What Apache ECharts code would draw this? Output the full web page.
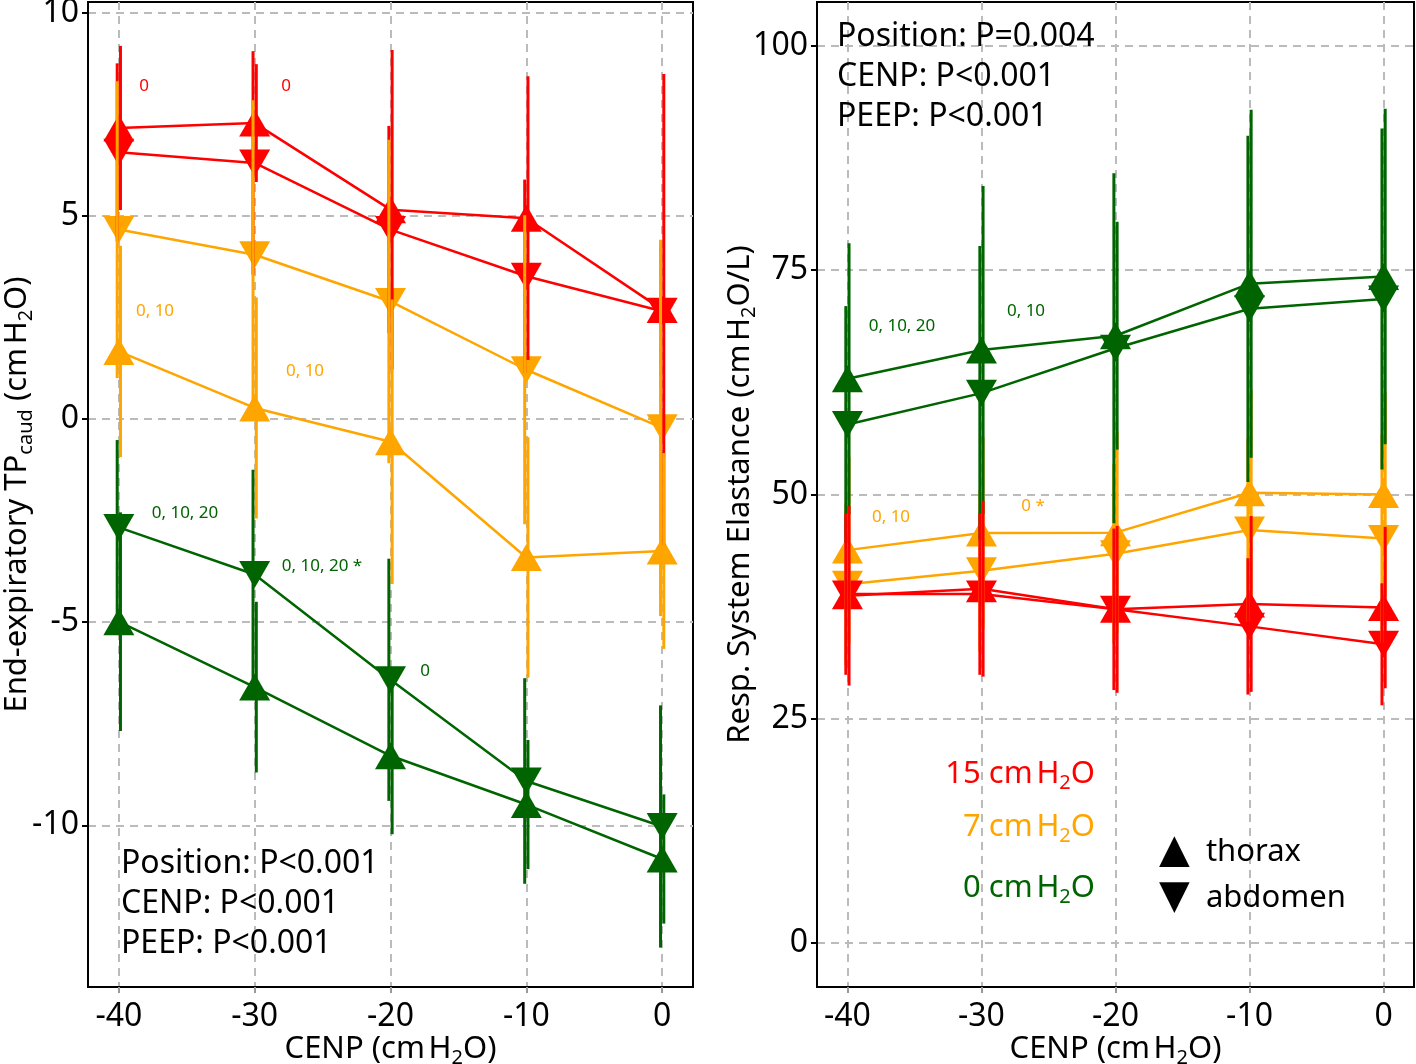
<!DOCTYPE html>
<html lang="en">
<head>
    <meta charset="UTF-8">
    <title>CENP</title>
    <script src="https://cdn.jsdelivr.net/npm/echarts@6/dist/echarts.min.js"></script>
    <style>
        html, body { margin: 0; padding: 0; background: #fff; overflow: hidden; }
        #main { width: 100vw; height: 100vh; }
    </style>
</head>
<body>
<div id="main"></div>
<script>
    var cenp = [-40, -30, -20, -10, 0];
    var xTicks = [-40, -30, -20, -10, 0];
    var tpTicks = [-10, -5, 0, 5, 10];
    var erTicks = [0, 25, 50, 75, 100];

    // end-expiratory TPcaud, mean and SD
    var tp15Thorax = [7.16, 7.28, 5.15, 4.94, 2.69];
    var tp15ThoraxSd = [2.02, 1.45, 3.93, 3.49, 5.8];
    var tp15Abdomen = [6.56, 6.30, 4.66, 3.51, 2.65];
    var tp15AbdomenSd = [2.19, 2.75, 2.55, 2.38, 1.6];
    var tp7Thorax = [1.66, 0.27, -0.56, -3.41, -3.25];
    var tp7ThoraxSd = [2.6, 2.72, 3.5, 2.96, 2.41];
    var tp7Abdomen = [4.66, 4.04, 2.89, 1.21, -0.22];
    var tp7AbdomenSd = [3.65, 3.8, 3.98, 3.8, 4.63];
    var tp0Thorax = [-4.99, -6.6, -8.29, -9.49, -10.83];
    var tp0ThoraxSd = [2.69, 2.1, 1.93, 1.59, 1.59];
    var tp0Abdomen = [-2.67, -3.83, -6.42, -8.91, -10.03];
    var tp0AbdomenSd = [2.15, 2.58, 2.98, 2.53, 2.98];

    // resp. system elastance, mean and SD
    var er15Thorax = [38.7, 39.5, 37.2, 37.8, 37.4];
    var er15ThoraxSd = [10, 9.8, 9.3, 9.8, 9];
    var er15Abdomen = [38.9, 38.9, 37.2, 35.3, 33.3];
    var er15AbdomenSd = [9, 9, 9, 7.6, 6.8];
    var er7Thorax = [43.8, 45.7, 45.75, 50.2, 50.0];
    var er7ThoraxSd = [10.4, 10.7, 11.2, 11.4, 11.4];
    var er7Abdomen = [40.0, 41.5, 43.4, 46.05, 45.1];
    var er7AbdomenSd = [9, 9, 10, 10.2, 11.6];
    var er0Thorax = [62.9, 66.1, 67.7, 73.5, 74.3];
    var er0ThoraxSd = [15.1, 18.3, 12.7, 19.4, 18.7];
    var er0Abdomen = [57.8, 61.3, 66.3, 70.7, 71.8];
    var er0AbdomenSd = [13.2, 16.4, 19.5, 19.3, 19];

    var RED = '#ff0000', ORANGE = '#ffa500', GREEN = '#006400';
    var FONT = 'Noto Sans';

    var rich = {
        n: { fontSize: 31, fontFamily: FONT, lineHeight: 38 },
        g: { fontSize: 14, fontFamily: FONT, lineHeight: 38 },
        s: { fontSize: 20, fontFamily: FONT, lineHeight: 20, verticalAlign: 'bottom' },
        t: { fontSize: 40, fontFamily: 'DejaVu Sans', lineHeight: 38 }
    };

    var series = [];

    function errBar(off) {
        return function (params, api) {
            var x = api.value(0) + off;
            var p1 = api.coord([x, api.value(1)]);
            var p2 = api.coord([x, api.value(2)]);
            return {
                type: 'line',
                shape: { x1: p1[0], y1: p1[1], x2: p2[0], y2: p2[1] },
                style: { stroke: api.visual('color'), lineWidth: 3 }
            };
        };
    }

    function addGroup(ax, mean, sd, color, up) {
        series.push({
            type: 'line',
            xAxisIndex: ax, yAxisIndex: ax,
            data: cenp.map(function (c, i) { return [c, mean[i]]; }),
            symbol: 'triangle',
            symbolRotate: up ? 0 : 180,
            symbolSize: [31, 27],
            showAllSymbol: true,
            itemStyle: { color: color, opacity: 1 },
            lineStyle: { color: color, width: 2.5 },
            emphasis: { disabled: true },
            z: 2
        });
        series.push({
            type: 'custom',
            xAxisIndex: ax, yAxisIndex: ax,
            data: cenp.map(function (c, i) { return [c, mean[i] - sd[i], mean[i] + sd[i]]; }),
            encode: { x: 0, y: [1, 2] },
            renderItem: errBar(up ? 0.12 : -0.12),
            itemStyle: { color: color },
            z: 3
        });
    }

    addGroup(0, tp0Thorax, tp0ThoraxSd, GREEN, true);
    addGroup(0, tp0Abdomen, tp0AbdomenSd, GREEN, false);
    addGroup(0, tp15Thorax, tp15ThoraxSd, RED, true);
    addGroup(0, tp15Abdomen, tp15AbdomenSd, RED, false);
    addGroup(0, tp7Thorax, tp7ThoraxSd, ORANGE, true);
    addGroup(0, tp7Abdomen, tp7AbdomenSd, ORANGE, false);

    addGroup(1, er7Thorax, er7ThoraxSd, ORANGE, true);
    addGroup(1, er7Abdomen, er7AbdomenSd, ORANGE, false);
    addGroup(1, er0Thorax, er0ThoraxSd, GREEN, true);
    addGroup(1, er0Abdomen, er0AbdomenSd, GREEN, false);
    addGroup(1, er15Thorax, er15ThoraxSd, RED, true);
    addGroup(1, er15Abdomen, er15AbdomenSd, RED, false);

    var unit = '{n|cm}{g| }{n|H}{s|2}{n|O}';

    function xAxis(idx) {
        return {
            gridIndex: idx, type: 'value', min: -42.27, max: 2.27,
            name: '{n|CENP (}' + unit + '{n|)}',
            nameLocation: 'middle', nameGap: 43, nameMoveOverlap: false,
            nameTextStyle: { color: '#000', rich: rich },
            axisLine: { show: true, onZero: false, lineStyle: { color: '#000', width: 2 } },
            axisTick: { show: true, customValues: xTicks, length: 6, lineStyle: { color: '#999', width: 2 } },
            axisLabel: { customValues: xTicks, color: '#000', fontSize: 32, fontFamily: FONT, margin: 14 },
            splitLine: { show: true, lineStyle: { type: [8, 6], color: '#bbb', width: 2 } }
        };
    }

    function yAxis(idx, min, max, ticks, name, gap) {
        return {
            gridIndex: idx, type: 'value', min: min, max: max,
            name: name, nameLocation: 'middle', nameGap: gap, nameMoveOverlap: false,
            nameTextStyle: { color: '#000', rich: rich },
            axisLine: { show: true, onZero: false, lineStyle: { color: '#000', width: 2 } },
            axisTick: { show: true, customValues: ticks, length: 6, lineStyle: { color: '#000', width: 2 } },
            axisLabel: { customValues: ticks, color: '#000', fontSize: 32, fontFamily: FONT, margin: 9 },
            splitLine: { show: true, lineStyle: { type: [8, 6], color: '#bbb', width: 2 } }
        };
    }

    function note(x, y, text, color) {
        return { type: 'text', x: x, y: y, z: 10,
            style: { text: text, fill: color, font: '17px "Noto Sans"', textAlign: 'center', textVerticalAlign: 'middle' } };
    }
    function stat(x, y, text) {
        return { type: 'text', x: x, y: y, z: 10,
            style: { text: text, fill: '#000', font: '32px "Noto Sans"', textAlign: 'left', textVerticalAlign: 'middle' } };
    }
    function peep(y, text, color) {
        return { type: 'text', x: 1095, y: y, z: 10,
            style: { text: text, rich: rich, fill: color, textAlign: 'right', textVerticalAlign: 'middle' } };
    }

    var graphics = [
        note(144, 86, '0', RED), note(286, 86, '0', RED),
        note(155, 311, '0, 10', ORANGE), note(305, 371, '0, 10', ORANGE),
        note(185, 513, '0, 10, 20', GREEN), note(322, 566, '0, 10, 20 *', GREEN), note(425, 671, '0', GREEN),
        note(902, 326, '0, 10, 20', GREEN), note(1026, 311, '0, 10', GREEN),
        note(891, 517, '0, 10', ORANGE), note(1033, 506, '0 *', ORANGE),
        stat(121, 864, 'Position: P<0.001'), stat(121, 904, 'CENP: P<0.001'), stat(121, 944, 'PEEP: P<0.001'),
        stat(837, 37, 'Position: P=0.004'), stat(837, 77, 'CENP: P<0.001'), stat(837, 117, 'PEEP: P<0.001'),
        peep(774, '{n|15 }' + unit, RED),
        peep(827, '{n|7 }' + unit, ORANGE),
        peep(888, '{n|0 }' + unit, GREEN),
        { type: 'text', x: 1159, y: 852, z: 10,
          style: { text: '{t|▲}{n|  thorax}', rich: rich, fill: '#000', textAlign: 'left', textVerticalAlign: 'middle' } },
        { type: 'text', x: 1159, y: 898, z: 10,
          style: { text: '{t|▼}{n|  abdomen}', rich: rich, fill: '#000', textAlign: 'left', textVerticalAlign: 'middle' } }
    ];

    var chart = echarts.init(document.getElementById('main'));
    chart.setOption({
        animation: false,
        backgroundColor: '#fff',
        grid: [
            { left: 88, top: 2, width: 605, height: 985, show: true, borderColor: '#000', borderWidth: 2,
              containLabel: false, outerBoundsMode: 'none' },
            { left: 817, top: 2, width: 597, height: 985, show: true, borderColor: '#000', borderWidth: 2,
              containLabel: false, outerBoundsMode: 'none' }
        ],
        xAxis: [xAxis(0), xAxis(1)],
        yAxis: [
            yAxis(0, -13.98, 10.26, tpTicks, '{n|End-expiratory TP}{s|caud}{n| (}' + unit + '{n|)}', 52),
            yAxis(1, -4.9, 104.9, erTicks, '{n|Resp. System Elastance (}' + unit + '{n|/L)}', 58)
        ],
        series: series,
        graphic: graphics
    });
</script>
</body>
</html>
